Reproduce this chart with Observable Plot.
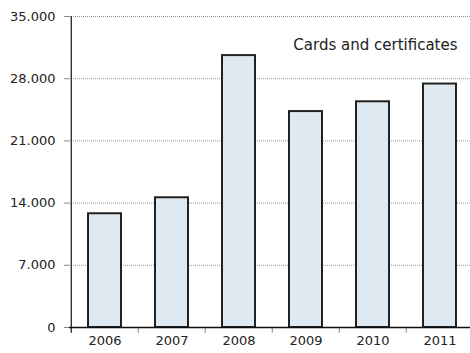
<!DOCTYPE html>
<html>
<head>
<meta charset="utf-8">
<script src="https://cdn.jsdelivr.net/npm/d3@7"></script>
<script src="https://cdn.jsdelivr.net/npm/@observablehq/plot@0.6"></script>
<style>
  body { margin: 0; background: #fff; }
  #chart svg { display: block; }
</style>
</head>
<body>
<div id="chart"></div>
<script>
const years = ["2006", "2007", "2008", "2009", "2010", "2011"];
const values = [12800, 14600, 30600, 24300, 25400, 27400];
const yTicks = [0, 7000, 14000, 21000, 28000, 35000];
const seriesLabel = "Cards and certificates";

const data = years.map((y, i) => ({year: y, value: values[i]}));
const fmt = v => d3.format(",")(v).replace(/,/g, ".");
const step = (474 - 69) / years.length;
const font = "DejaVu Sans";

const chart = Plot.plot({
  width: 470,
  height: 353,
  marginTop: 16,
  marginBottom: 26,
  marginLeft: 69,
  marginRight: 0,
  style: {fontFamily: font, fontSize: "13px", color: "#222", background: "#fff"},
  x: {domain: years, range: [69, 474], paddingInner: 0.51, paddingOuter: 0.255, label: null},
  y: {domain: [0, 35000], label: null},
  marks: [
    Plot.ruleY(yTicks.filter(d => d > 0), {stroke: "#777", strokeWidth: 0.8, strokeDasharray: "1,1"}),
    Plot.axisY({ticks: yTicks, tickFormat: fmt, tickSize: 5, tickPadding: 9, stroke: "#888", fontSize: 13, fontFamily: font, fill: "#222"}),
    Plot.axisX({tickSize: 0, tickPadding: 8, fontSize: 13, fontFamily: font, fill: "#222"}),
    Plot.ruleX(years.slice(1), {y1: 0, y2: -650, dx: -step / 2, stroke: "#888"}),
    Plot.ruleX(years.slice(0, 1), {y1: -650, y2: 35000, dx: -step / 2, stroke: "#111", strokeWidth: 1.2}),
    Plot.barY(data, {x: "year", y: "value", fill: "#dfe9f1", stroke: "#222", strokeWidth: 2}),
    Plot.ruleY([0], {stroke: "#111", strokeWidth: 1.5}),
    Plot.text([seriesLabel], {frameAnchor: "top-right", dx: -13, dy: 29, lineAnchor: "middle", textAnchor: "end", fontSize: 15, fontFamily: font, fill: "#222"})
  ]
});
document.getElementById("chart").appendChild(chart);
</script>
</body>
</html>
